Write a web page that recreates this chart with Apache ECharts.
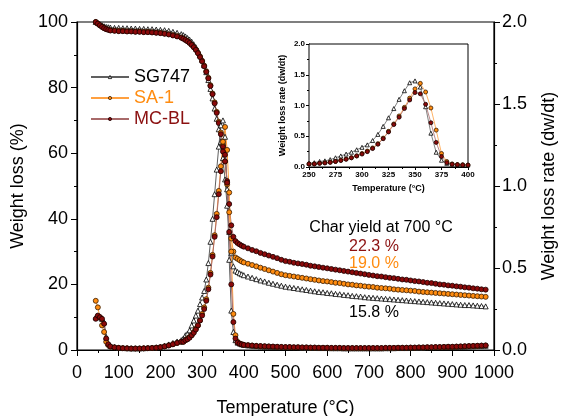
<!DOCTYPE html>
<html>
<head>
<meta charset="utf-8">
<script src="https://cdn.jsdelivr.net/npm/echarts@6/dist/echarts.min.js"></script>
<style>html,body{margin:0;padding:0;background:#fff}#c{width:567px;height:416px}</style>
</head>
<body>
<div id="c"></div>
<script>
// Temperatures (°C) shared by all series
var temps = [45,50,55,60,65,70,75,80,
 90,100,110,120,130,140,150,160,170,180,190,200,210,220,230,240,
 250,255,260,265,270,275,280,285,290,295,300,305,310,315,320,325,330,335,340,345,350,355,360,365,370,375,380,385,390,395,400,
 410,420,430,440,450,460,470,480,490,500,510,520,530,540,550,560,570,580,590,600,
 610,620,630,640,650,660,670,680,690,700,710,720,730,740,750,760,770,780,790,800,
 810,820,830,840,850,860,870,880,890,900,910,920,930,940,950,960,970,980];

var seriesNames = ['SG747','SA-1','MC-BL'];

// Weight loss (%) – left axis
var tgaSG747 = [100,99.7,99.3,99.0,98.7,98.5,98.4,98.3,
 98.2,98.2,98.1,98.1,98.0,98.0,97.9,97.9,97.8,97.8,97.7,97.6,97.5,97.3,97.0,96.7,
 96.3,96.0,95.6,95.1,94.6,94.0,93.2,92.3,91.3,90.0,88.5,86.8,84.7,82.3,79.6,76.7,73.6,70.5,67.3,63.5,58.5,52,44,36,29.5,25.5,24.2,23.8,23.4,23.1,22.8,
 22.4,22.0,21.6,21.2,20.9,20.5,20.2,19.9,19.6,19.3,19.1,18.9,18.7,18.5,18.3,18.1,17.9,17.7,17.6,17.4,
 17.3,17.1,17.0,16.8,16.7,16.5,16.4,16.3,16.1,16.0,15.9,15.8,15.7,15.6,15.5,15.4,15.3,15.2,15.1,15.0,
 14.9,14.8,14.7,14.6,14.5,14.4,14.3,14.2,14.1,14.0,13.9,13.8,13.7,13.7,13.6,13.5,13.4,13.3];
var tgaSA1 = [100,99.5,99.0,98.6,98.2,97.9,97.7,97.5,
 97.4,97.3,97.3,97.2,97.2,97.1,97.1,97.0,97.0,96.9,96.8,96.7,96.5,96.3,96.0,95.7,
 95.3,95.0,94.6,94.2,93.7,93.1,92.4,91.6,90.6,89.5,88.2,86.7,85.0,83.0,80.7,78.2,75.5,72.6,69.6,66.3,62.5,57.5,50.5,42,34,30,28.2,27.8,27.4,27.0,26.7,
 26.3,25.9,25.5,25.1,24.7,24.3,23.9,23.5,23.1,22.8,22.6,22.4,22.2,22.0,21.8,21.6,21.4,21.2,21.0,20.9,
 20.7,20.5,20.4,20.2,20.0,19.9,19.7,19.6,19.4,19.3,19.2,19.0,18.9,18.8,18.7,18.5,18.4,18.3,18.2,18.1,
 18.0,17.8,17.7,17.6,17.5,17.4,17.3,17.2,17.1,17.0,16.9,16.8,16.7,16.6,16.5,16.4,16.3,16.2];
var tgaMCBL = [100,99.5,99.0,98.5,98.1,97.8,97.6,97.4,
 97.3,97.2,97.2,97.1,97.1,97.0,97.0,96.9,96.9,96.8,96.7,96.6,96.4,96.2,95.9,95.6,
 95.2,94.9,94.5,94.1,93.6,93.0,92.3,91.5,90.5,89.3,88.0,86.5,84.8,82.8,80.5,78.0,75.2,72.3,69.2,65.8,62.0,57.5,51.5,44.5,38.0,34.5,33.2,32.6,32.2,31.8,31.5,
 31.0,30.5,30.1,29.6,29.2,28.8,28.4,28.0,27.5,27.1,26.9,26.6,26.4,26.2,26.0,25.7,25.5,25.3,25.1,24.9,
 24.7,24.5,24.3,24.1,23.9,23.7,23.5,23.3,23.1,22.9,22.7,22.5,22.4,22.2,22.0,21.9,21.7,21.5,21.4,21.2,
 21.0,20.9,20.7,20.5,20.4,20.2,20.0,19.9,19.7,19.6,19.4,19.3,19.1,19.0,18.8,18.7,18.5,18.4];

// Weight loss rate (dw/dt) – right axis and inset
var dtgSG747 = [0.20,0.20,0.20,0.19,0.17,0.08,0.04,0.025,
 0.018,0.014,0.012,0.011,0.010,0.010,0.010,0.011,0.012,0.014,0.016,0.020,0.026,0.034,0.043,0.052,
 0.06,0.07,0.09,0.10,0.12,0.15,0.18,0.21,0.24,0.28,0.32,0.36,0.43,0.53,0.66,0.80,0.95,1.10,1.24,1.37,1.40,1.30,0.98,0.55,0.24,0.11,0.06,0.045,0.04,0.035,0.032,
 0.028,0.026,0.024,0.022,0.021,0.020,0.019,0.018,0.017,0.016,0.016,0.015,0.015,0.014,0.014,0.013,0.013,0.012,0.012,0.012,
 0.011,0.011,0.011,0.010,0.010,0.010,0.010,0.010,0.010,0.010,0.010,0.010,0.010,0.011,0.011,0.011,0.012,0.012,0.012,0.013,
 0.013,0.014,0.014,0.015,0.015,0.016,0.016,0.017,0.018,0.018,0.019,0.020,0.021,0.022,0.023,0.024,0.025,0.026];
var dtgSA1 = [0.30,0.26,0.20,0.15,0.11,0.05,0.03,0.02,
 0.016,0.013,0.011,0.010,0.009,0.009,0.009,0.010,0.011,0.012,0.014,0.017,0.022,0.028,0.035,0.043,
 0.05,0.05,0.06,0.07,0.08,0.09,0.11,0.13,0.15,0.18,0.22,0.26,0.31,0.38,0.47,0.58,0.70,0.83,0.97,1.12,1.27,1.36,1.22,0.96,0.60,0.22,0.09,0.05,0.04,0.035,0.032,
 0.029,0.027,0.025,0.023,0.022,0.021,0.020,0.019,0.018,0.017,0.017,0.016,0.016,0.015,0.015,0.014,0.014,0.013,0.013,0.013,
 0.012,0.012,0.012,0.011,0.011,0.011,0.011,0.011,0.011,0.011,0.011,0.011,0.011,0.012,0.012,0.012,0.013,0.013,0.013,0.014,
 0.014,0.015,0.015,0.016,0.016,0.017,0.017,0.018,0.019,0.019,0.020,0.021,0.022,0.023,0.024,0.025,0.026,0.027];
var dtgMCBL = [0.19,0.21,0.20,0.19,0.16,0.07,0.035,0.022,
 0.016,0.013,0.011,0.010,0.009,0.009,0.009,0.010,0.011,0.012,0.014,0.017,0.022,0.028,0.035,0.043,
 0.05,0.05,0.06,0.065,0.075,0.09,0.105,0.125,0.15,0.18,0.21,0.25,0.30,0.37,0.46,0.57,0.69,0.81,0.95,1.09,1.21,1.19,1.02,0.72,0.40,0.17,0.07,0.045,0.038,0.034,0.031,
 0.029,0.027,0.025,0.024,0.023,0.022,0.021,0.020,0.019,0.018,0.018,0.017,0.017,0.016,0.016,0.015,0.015,0.014,0.014,0.014,
 0.013,0.013,0.013,0.012,0.012,0.012,0.012,0.012,0.012,0.012,0.012,0.012,0.012,0.013,0.013,0.013,0.014,0.014,0.014,0.015,
 0.015,0.016,0.016,0.017,0.017,0.018,0.018,0.019,0.020,0.020,0.021,0.022,0.023,0.024,0.025,0.026,0.027,0.028];

// Tick label lists
var xTicksMain = [0,100,200,300,400,500,600,700,800,900,1000];
var xTicksInset = [250,275,300,325,350,375,400];

var annotations = ['Char yield at 700 °C','22.3 %','19.0 %','15.8 %'];

function pairs(v){ return temps.map(function(t,i){ return [t, v[i]]; }); }

var styles = {
  'SG747': {symbol:'triangle', fill:'#ffffff', border:'#000000', line:'#606060', text:'#000000'},
  'SA-1':  {symbol:'circle', fill:'#ff8c10', border:'#3a1c00', line:'#ffa040', text:'#ff8c10'},
  'MC-BL': {symbol:'circle', fill:'#8b0a0a', border:'#1a0000', line:'#a86a6a', text:'#8b1010'}
};

function mk(name, data, xi, yi, size, lw){
  var s = styles[name];
  return {
    name:name, type:'line', xAxisIndex:xi, yAxisIndex:yi, data:pairs(data),
    symbol:s.symbol, symbolSize:size, showSymbol:true, showAllSymbol:true,
    itemStyle:{color:s.fill, borderColor:s.border, borderWidth:0.8},
    lineStyle:{color:s.line, width:lw},
    animation:false, z:3
  };
}

var font = 'Liberation Sans, Arial, sans-serif';
var series = [
  mk('SG747', tgaSG747, 0, 0, 5, 1),
  mk('SA-1', tgaSA1, 0, 0, 5, 1),
  mk('MC-BL', tgaMCBL, 0, 0, 5, 1),
  mk('SG747', dtgSG747, 0, 1, 5, 1),
  mk('SA-1', dtgSA1, 0, 1, 5, 1),
  mk('MC-BL', dtgMCBL, 0, 1, 5, 1),
  mk('SG747', dtgSG747, 1, 2, 4, 0.8),
  mk('SA-1', dtgSA1, 1, 2, 4, 0.8),
  mk('MC-BL', dtgMCBL, 1, 2, 4, 0.8)
];
series.forEach(function(s,i){ if(i>=6){ s.z = 10; } });

var axisLine = {show:true, lineStyle:{color:'#000', width:1.2}};

var option = {
  animation:false,
  backgroundColor:'#fff',
  grid:[
    {left:77, right:73, top:22, bottom:66, outerBoundsMode:'none', containLabel:false, show:true, borderColor:'#000', borderWidth:1.2, backgroundColor:'transparent'},
    {left:309, right:99, top:44, bottom:249, outerBoundsMode:'none', containLabel:false, show:true, borderColor:'#000', borderWidth:1, backgroundColor:'#fff', z:5}
  ],
  legend:{
    orient:'vertical', left:85, top:63, itemGap:3, itemWidth:38, itemHeight:4,
    itemStyle:{borderWidth:0.8},
    data:seriesNames.map(function(n){ return {name:n, textStyle:{color:styles[n].text}}; }),
    textStyle:{fontSize:18, fontFamily:font, padding:[0,0,0,0]}
  },
  xAxis:[
    {type:'value', gridIndex:0, min:0, max:1000, interval:100,
     name:'Temperature (°C)', nameLocation:'middle', nameGap:49,
     nameTextStyle:{fontSize:18, fontFamily:font, color:'#000'},
     axisLine:axisLine, axisTick:{show:true, inside:false, length:6, lineStyle:{color:'#000'}},
     minorTick:{show:true, splitNumber:2, length:3, lineStyle:{color:'#000'}},
     splitLine:{show:false},
     axisLabel:{fontSize:18, fontFamily:font, color:'#000', margin:14,
       formatter:function(v){ return xTicksMain.indexOf(v)>=0 ? String(v) : ''; }}},
    {type:'value', gridIndex:1, min:250, max:400, interval:25,
     name:'Temperature (°C)', nameLocation:'middle', nameGap:17,
     nameTextStyle:{fontSize:9, fontWeight:'bold', fontFamily:font, color:'#000'},
     axisLine:{show:true, lineStyle:{color:'#000', width:1}},
     axisTick:{show:true, length:3, lineStyle:{color:'#000'}},
     minorTick:{show:true, splitNumber:2, length:2, lineStyle:{color:'#000'}},
     splitLine:{show:false},
     axisLabel:{fontSize:8, fontWeight:'bold', fontFamily:font, color:'#000', margin:4,
       formatter:function(v){ return xTicksInset.indexOf(v)>=0 ? String(v) : ''; }}}
  ],
  yAxis:[
    {type:'value', gridIndex:0, min:0, max:100, interval:20, position:'left',
     name:'Weight loss (%)', nameLocation:'middle', nameGap:44,
     nameTextStyle:{fontSize:18, fontFamily:font, color:'#000'},
     axisLine:axisLine, axisTick:{show:true, length:6, lineStyle:{color:'#000'}},
     minorTick:{show:true, splitNumber:2, length:3, lineStyle:{color:'#000'}},
     splitLine:{show:false},
     axisLabel:{fontSize:18, fontFamily:font, color:'#000', margin:9}},
    {type:'value', gridIndex:0, min:0, max:2, interval:0.5, position:'right',
     name:'Weight loss rate (dw/dt)', nameLocation:'middle', nameGap:46,
     nameTextStyle:{fontSize:18, fontFamily:font, color:'#000'},
     axisLine:axisLine, axisTick:{show:true, length:6, lineStyle:{color:'#000'}},
     minorTick:{show:true, splitNumber:2, length:3, lineStyle:{color:'#000'}},
     splitLine:{show:false},
     axisLabel:{fontSize:18, fontFamily:font, color:'#000', margin:8,
       formatter:function(v){ return v.toFixed(1); }}},
    {type:'value', gridIndex:1, min:0, max:2, interval:0.5,
     name:'Weight loss rate (dw/dt)', nameLocation:'middle', nameGap:22,
     nameTextStyle:{fontSize:9, fontWeight:'bold', fontFamily:font, color:'#000'},
     axisLine:{show:true, lineStyle:{color:'#000', width:1}},
     axisTick:{show:true, length:3, lineStyle:{color:'#000'}},
     minorTick:{show:true, splitNumber:2, length:2, lineStyle:{color:'#000'}},
     splitLine:{show:false},
     axisLabel:{fontSize:8, fontWeight:'bold', fontFamily:font, color:'#000', margin:4,
       formatter:function(v){ return v.toFixed(1); }}}
  ],
  graphic:[
    {type:'text', x:381, y:228, style:{text:annotations[0], fill:'#000', font:'16px '+font, textAlign:'center', textVerticalAlign:'middle'}},
    {type:'text', x:374, y:247, style:{text:annotations[1], fill:'#8b1010', font:'16px '+font, textAlign:'center', textVerticalAlign:'middle'}},
    {type:'text', x:374, y:264, style:{text:annotations[2], fill:'#ff8c10', font:'16px '+font, textAlign:'center', textVerticalAlign:'middle'}},
    {type:'text', x:374, y:313, style:{text:annotations[3], fill:'#000', font:'16px '+font, textAlign:'center', textVerticalAlign:'middle'}}
  ],
  series:series
};

var chart = echarts.init(document.getElementById('c'), null, {renderer:'canvas'});
chart.setOption(option);
</script>
</body>
</html>
